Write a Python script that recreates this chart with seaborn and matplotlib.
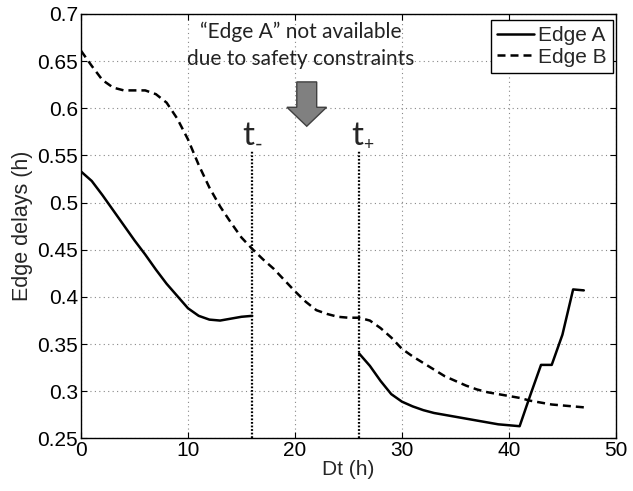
import numpy as np
import pandas as pd
import matplotlib
matplotlib.use("Agg")
import matplotlib.pyplot as plt
from matplotlib.patches import FancyArrow
from matplotlib.ticker import FuncFormatter
import seaborn as sns

# Hourly edge delays (h); Edge A is closed between t- and t+
hours = list(range(0, 48))
edge_a = [0.533, 0.523, 0.508, 0.492, 0.476, 0.460, 0.445, 0.429, 0.414, 0.401,
          0.388, 0.380, 0.376, 0.375, 0.377, 0.379, 0.380,
          None, None, None, None, None, None, None, None, None,
          0.340, 0.327, 0.311, 0.297, 0.289, 0.284, 0.280, 0.277, 0.275, 0.273,
          0.271, 0.269, 0.267, 0.265, 0.264, 0.263, 0.296, 0.328, 0.328, 0.360,
          0.408, 0.407]
edge_b = [0.661, 0.645, 0.630, 0.622, 0.619, 0.619, 0.619, 0.615, 0.606, 0.589,
          0.567, 0.540, 0.516, 0.496, 0.479, 0.463, 0.451, 0.440, 0.430, 0.418,
          0.406, 0.395, 0.386, 0.382, 0.379, 0.378, 0.378, 0.375, 0.367, 0.357,
          0.345, 0.337, 0.330, 0.323, 0.316, 0.311, 0.306, 0.302, 0.299, 0.297,
          0.295, 0.293, 0.290, 0.288, 0.286, 0.285, 0.284, 0.283]
series_names = ["Edge A", "Edge B"]
t_minus = 16
t_plus = 26
x_ticks = [0, 10, 20, 30, 40, 50]
y_ticks = [0.25, 0.3, 0.35, 0.4, 0.45, 0.5, 0.55, 0.6, 0.65, 0.7]
note_text = "\u201cEdge A\u201d not available\ndue to safety constraints"

# Long-form table, with a segment id so gaps in a series are not bridged
rows = []
for name, vals in zip(series_names, [edge_a, edge_b]):
    seg = 0
    prev_missing = False
    for h, v in zip(hours, vals):
        if v is None:
            prev_missing = True
            continue
        if prev_missing:
            seg += 1
            prev_missing = False
        rows.append({"Dt": h, "delay": v, "series": name, "seg": f"{name}-{seg}"})
df = pd.DataFrame(rows)

sns.set_theme(style="white")
plt.rcParams["font.family"] = ["Liberation Sans", "DejaVu Sans"]
annot_font = ["Lato", "DejaVu Sans"]

fig = plt.figure(figsize=(6.33, 4.91), dpi=100)
ax = fig.add_axes([0.128, 0.107, 0.845, 0.8645])

sns.lineplot(data=df, x="Dt", y="delay", style="series", units="seg",
             estimator=None, color="black", linewidth=1.8,
             dashes={"Edge A": "", "Edge B": (3.2, 2.0)}, ax=ax)

# t- / t+ markers
for xv in (t_minus, t_plus):
    ax.plot([xv, xv], [0.25, 0.555], color="black", linewidth=1.6,
            linestyle=(0, (0.8, 0.8)), zorder=3)

ax.set_xlim(0, 50)
ax.set_ylim(0.25, 0.7)
ax.set_xticks(x_ticks)
ax.set_yticks(y_ticks)
ax.yaxis.set_major_formatter(FuncFormatter(lambda v, p: f"{v:g}"))
ax.grid(True, color="#888888", linestyle=(0, (1, 3)), linewidth=0.8)
for sp in ax.spines.values():
    sp.set_color("black")
    sp.set_linewidth(1.0)
ax.tick_params(direction="in", length=4, width=0.8, colors="black",
               labelsize=15, top=True, right=True, bottom=True, left=True,
               pad=2)
ax.set_xlabel("Dt (h)", fontsize=15, labelpad=0)
ax.set_ylabel("Edge delays (h)", fontsize=15.5, labelpad=3)

leg = ax.legend(loc="upper right", bbox_to_anchor=(0.9938, 0.9859),
                fontsize=15, frameon=True, fancybox=False,
                edgecolor="black", framealpha=1, handlelength=1.78,
                handletextpad=0.16, labelspacing=0.12, borderpad=0.3,
                borderaxespad=0.0)
leg.get_frame().set_linewidth(1.0)

# Annotation text and arrow
ax.text(20.5, 0.6665, note_text, ha="center", va="center", fontsize=15,
        family=annot_font, linespacing=1.45, color="#222222")
ax.add_patch(FancyArrow(21.1, 0.628, 0, -0.047, width=1.86, head_width=3.7,
                        head_length=0.0201, length_includes_head=True,
                        facecolor="#808080", edgecolor="#404040",
                        linewidth=1.0, zorder=4))

# t labels with small sign subscripts
t_labels = [(t_minus, -0.35, "-", 0.62, 15), (t_plus, -0.15, "+", 0.88, 12.5)]
for xv, tdx, sign, sdx, fs in t_labels:
    ax.text(xv + tdx, 0.5615, "t", ha="center", va="baseline", fontsize=24,
            family=annot_font)
    ax.text(xv + sdx, 0.5612, sign, ha="center", va="center",
            fontsize=fs, family=annot_font)

fig.savefig("out.png", dpi=100)
